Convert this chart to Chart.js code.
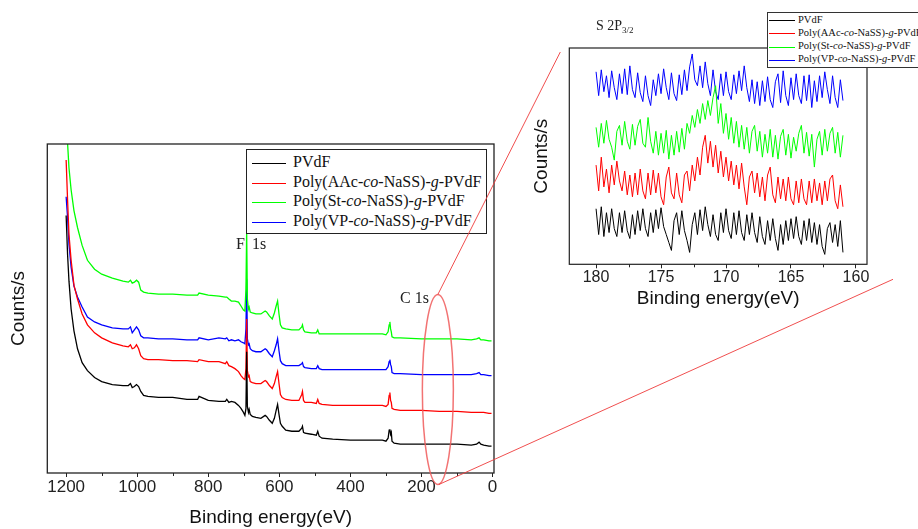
<!DOCTYPE html>
<html>
<head>
<meta charset="utf-8">
<script src="https://cdn.jsdelivr.net/npm/chart.js@4.4.1/dist/chart.umd.min.js"></script>
<style>
  html, body { margin: 0; padding: 0; background: #fff; }
  body { position: relative; width: 918px; height: 529px; overflow: hidden; }
  canvas { position: absolute; }
  #main { left: 0; top: 0; }
  #inset { left: 520px; top: 0; }
  #overlay { left: 0; top: 0; pointer-events: none; z-index: 3; }
  .legend { position: absolute; background: #fff; box-sizing: border-box; z-index: 2;
    font-family: "Liberation Serif", "Times New Roman", serif; color: #111; white-space: nowrap; }
  .legend .swatch, .legend .label { position: absolute; }
  .note { position: absolute; z-index: 2; font-family: "Liberation Serif", "Times New Roman", serif;
    color: #222; white-space: pre; }
</style>
</head>
<body>
<canvas id="main" width="510" height="529"></canvas>
<canvas id="inset" width="398" height="311"></canvas>
<canvas id="overlay" width="918" height="529"></canvas>

<div class="legend" id="legMain" style="left:246px;top:149px;width:241px;height:85px;border:1px solid #222"></div>
<div class="legend" id="legInset" style="left:767px;top:12px;width:220px;height:56px;border:1px solid #333"></div>

<div class="note" style="left:236px;top:236px;font-size:16px;line-height:16px;word-spacing:3px">F 1s</div>
<div class="note" style="left:400px;top:290px;font-size:16px;line-height:16px">C 1s</div>
<div class="note" style="left:596px;top:19px;font-size:14px;line-height:14px">S 2P<span style="font-size:9px;position:relative;top:3px">3/2</span></div>

<script>
const seriesNames = [
  "PVdF",
  "Poly(AAc-<i>co</i>-NaSS)-<i>g</i>-PVdF",
  "Poly(St-<i>co</i>-NaSS)-<i>g</i>-PVdF",
  "Poly(VP-<i>co</i>-NaSS)-<i>g</i>-PVdF",
];
const seriesColors = ["#000000", "#ff0000", "#00ff00", "#0000ff"];

// survey spectrum, binding energy (eV)
const surveyEnergy = [
  1200, 1196, 1192, 1186, 1178, 1168, 1155, 1140, 1120, 1100,
  1070, 1040, 1025, 1019, 1014, 1008, 1002, 996, 990, 982,
  970, 940, 900, 860, 830, 826, 800, 770, 752, 748,
  742, 735, 725, 715, 708, 701, 697, 694, 692, 690,
  687, 685, 682, 676, 666, 652, 640, 636, 628, 620,
  614, 609, 605, 601, 597, 592, 582, 565, 545, 537,
  535, 532, 528, 510, 496, 492, 488, 480, 450, 400,
  350, 310, 300, 294, 291, 289, 287, 285, 283, 277,
  260, 200, 150, 100, 60, 45, 38, 33, 25, 10,
  3,
];
const surveyPVdF = [
  259, 220, 193, 165, 143, 125, 111, 103, 96, 92,
  89, 88, 88, 90, 86, 87, 89, 87, 82, 78,
  77, 76, 76, 74, 74, 77, 73, 72, 72, 74,
  71, 72, 71, 68, 65, 61, 58, 65, 122, 67,
  61, 64, 59, 57, 56, 55, 58, 57, 53, 50,
  55, 63, 69, 59, 50, 47, 43, 42, 42, 45,
  47, 41, 40, 39, 38, 42, 37, 35, 34, 33,
  33, 33, 32, 35, 43, 44, 39, 41, 32, 30,
  29, 29, 29, 29, 28, 29, 31, 29, 28, 27,
  27,
];
const surveyAAc = [
  315, 275, 240, 214, 189, 175, 160, 149, 141, 136,
  131, 128, 127, 129, 125, 126, 129, 125, 118, 115,
  114, 114, 113, 113, 112, 114, 112, 112, 110, 112,
  108, 107, 105, 102, 98, 95, 94, 105, 155, 103,
  97, 98, 92, 91, 90, 90, 93, 92, 88, 85,
  90, 97, 102, 90, 79, 76, 74, 73, 73, 79,
  82, 73, 71, 71, 70, 74, 70, 69, 68, 68,
  68, 68, 67, 69, 78, 81, 73, 71, 65, 64,
  63, 63, 62, 62, 61, 61, 61, 61, 61, 60,
  60,
];
const surveySt = [
  375, 332, 307, 285, 264, 247, 229, 214, 205, 200,
  196, 193, 192, 194, 191, 192, 194, 192, 184, 182,
  181, 180, 180, 179, 179, 181, 179, 178, 177, 177,
  175, 173, 173, 172, 168, 164, 163, 185, 243, 175,
  165, 167, 162, 161, 160, 160, 163, 162, 158, 155,
  161, 168, 173, 160, 149, 146, 145, 144, 144, 147,
  149, 144, 142, 141, 141, 144, 140, 140, 140, 140,
  140, 140, 139, 142, 149, 152, 145, 142, 137, 136,
  136, 135, 135, 135, 134, 135, 136, 134, 134, 133,
  133,
];
const surveyVP = [
  278, 257, 230, 207, 188, 177, 167, 157, 152, 149,
  146, 145, 145, 147, 141, 144, 147, 144, 138, 136,
  136, 135, 135, 134, 134, 136, 134, 136, 135, 136,
  133, 134, 133, 134, 132, 131, 130, 145, 195, 135,
  129, 130, 125, 123, 122, 122, 125, 124, 120, 117,
  123, 129, 135, 123, 113, 110, 108, 108, 108, 110,
  111, 107, 106, 105, 105, 108, 105, 104, 104, 104,
  104, 104, 104, 107, 112, 114, 109, 107, 101, 100,
  100, 99, 99, 99, 99, 100, 101, 99, 99, 98,
  98,
];

// S 2p region
const sEnergy = [
  180, 179.8, 179.6, 179.4, 179.2, 179, 178.8, 178.6, 178.4, 178.2,
  178, 177.8, 177.6, 177.4, 177.2, 177, 176.8, 176.6, 176.4, 176.2,
  176, 175.8, 175.6, 175.4, 175.2, 175, 174.8, 174.6, 174.4, 174.2,
  174, 173.8, 173.6, 173.4, 173.2, 173, 172.8, 172.6, 172.4, 172.2,
  172, 171.8, 171.6, 171.4, 171.2, 171, 170.8, 170.6, 170.4, 170.2,
  170, 169.8, 169.6, 169.4, 169.2, 169, 168.8, 168.6, 168.4, 168.2,
  168, 167.8, 167.6, 167.4, 167.2, 167, 166.8, 166.6, 166.4, 166.2,
  166, 165.8, 165.6, 165.4, 165.2, 165, 164.8, 164.6, 164.4, 164.2,
  164, 163.8, 163.6, 163.4, 163.2, 163, 162.8, 162.6, 162.4, 162.2,
  162, 161.8, 161.6, 161.4, 161.2, 161,
];
const sPVdF = [
  56, 30, 58, 28, 52, 32, 56, 36, 28, 52,
  32, 54, 34, 26, 50, 30, 54, 34, 56, 36,
  28, 52, 32, 55, 36, 57, 38, 30, 22, 14,
  44, 52, 30, 54, 34, 24, 12, 40, 52, 30,
  55, 34, 58, 40, 28, 50, 30, 24, 52, 32,
  56, 34, 26, 52, 30, 54, 32, 24, 50, 30,
  52, 32, 22, 48, 28, 20, 44, 24, 46, 26,
  14, 40, 20, 44, 24, 46, 26, 48, 28, 20,
  44, 24, 46, 22, 42, 20, 40, 18, 10, 36,
  42, 22, 40, 18, 44, 12,
];
const sAAc = [
  100, 74, 108, 78, 96, 72, 100, 80, 104, 84,
  74, 94, 70, 90, 68, 92, 70, 96, 74, 66,
  92, 70, 95, 72, 92, 68, 60, 88, 98, 72,
  66, 92, 70, 62, 90, 94, 74, 100, 84, 108,
  90, 118, 130, 102, 124, 98, 120, 92, 114, 88,
  108, 84, 104, 80, 100, 76, 102, 78, 60, 88,
  94, 72, 92, 68, 88, 64, 90, 98, 70, 62,
  88, 66, 86, 64, 88, 66, 60, 84, 62, 86,
  66, 60, 84, 62, 86, 64, 82, 60, 84, 64,
  86, 90, 64, 56, 80, 58,
];
const sSt = [
  138, 118, 142, 122, 145, 126, 118, 105, 134, 140,
  120, 144, 124, 116, 141, 120, 139, 146, 122, 118,
  148, 124, 112, 134, 110, 132, 112, 135, 106, 130,
  110, 134, 113, 137, 116, 142, 132, 150, 138, 156,
  142, 162, 146, 165, 150, 168, 180, 142, 162, 132,
  152, 126, 148, 122, 144, 118, 140, 116, 138, 112,
  134, 140, 114, 134, 108, 131, 112, 136, 108, 130,
  106, 129, 136, 110, 131, 107, 128, 114, 132, 140,
  112, 133, 109, 131, 98, 126, 134, 110, 136, 114,
  132, 138, 112, 133, 108, 130,
];
const sVP = [
  194, 170, 196, 174, 190, 168, 195, 178, 166, 192,
  172, 197, 171, 200, 176, 168, 193, 173, 164, 190,
  170, 160, 186, 170, 192, 172, 197, 178, 166, 193,
  172, 165, 191, 171, 196, 175, 199, 212, 186, 180,
  200, 178, 204, 182, 170, 196, 174, 166, 192, 170,
  194, 174, 166, 191, 172, 195, 175, 200, 178, 164,
  186, 162, 184, 160, 185, 164, 189, 166, 158, 184,
  192, 163, 195, 170, 160, 188, 166, 192, 170, 162,
  190, 165, 191, 158, 185, 164, 190, 168, 194, 176,
  162, 190, 168, 158, 186, 165,
];

const mainMinorTicks = [100, 300, 500, 700, 900, 1100];
const insetMinorTicks = [162.5, 167.5, 172.5, 177.5];

Chart.defaults.font.family = "'Liberation Sans', Arial, sans-serif";
Chart.defaults.color = "#222";

const framePlugin = {
  id: "frame",
  afterDraw(chart, args, opts) {
    let ctx = chart.ctx;
    let a = chart.chartArea;
    let x = chart.scales.x;
    ctx.save();
    ctx.strokeStyle = "#222";
    ctx.lineWidth = opts.width || 1.2;
    ctx.strokeRect(a.left, a.top, a.right - a.left, a.bottom - a.top);
    ctx.lineWidth = 1;
    (opts.minor || []).forEach((v) => {
      let px = Math.round(x.getPixelForValue(v)) + 0.5;
      ctx.beginPath();
      ctx.moveTo(px, a.bottom);
      ctx.lineTo(px, a.bottom + 3);
      ctx.stroke();
    });
    ctx.restore();
  },
};

function makeDatasets(energy, lists, width) {
  return lists.map((vals, i) => ({
    label: seriesNames[i].replace(/<[^>]+>/g, ""),
    data: energy.map((e, j) => ({ x: e, y: vals[j] })),
    borderColor: seriesColors[i],
    borderWidth: width,
    pointRadius: 0,
    tension: 0,
    fill: false,
  }));
}

function axisX(min, max, step, tickSize, tickPad, titlePad) {
  return {
    type: "linear",
    min: min,
    max: max,
    reverse: true,
    border: { display: false },
    grid: { drawOnChartArea: false, tickLength: 4, tickColor: "#222", tickWidth: 1 },
    ticks: { stepSize: step, includeBounds: false, maxRotation: 0, padding: tickPad,
      font: { size: tickSize, lineHeight: 1 }, color: "#222",
      callback: (v) => String(v) },
    title: { display: true, text: "Binding energy(eV)", color: "#111",
      font: { size: 19 }, padding: titlePad },
  };
}

function axisY(max, titlePad) {
  return {
    min: 0,
    max: max,
    border: { display: false },
    grid: { display: false, drawTicks: false },
    ticks: { display: false },
    title: { display: true, text: "Counts/s", color: "#111", font: { size: 19 }, padding: titlePad },
  };
}

const mainChart = new Chart(document.getElementById("main"), {
  type: "line",
  data: { datasets: makeDatasets(surveyEnergy, [surveyPVdF, surveyAAc, surveySt, surveyVP], 1.3) },
  options: {
    responsive: false,
    animation: false,
    events: [],
    layout: { padding: { top: 144, right: 16, left: 0, bottom: 0 } },
    plugins: { legend: { display: false }, tooltip: { enabled: false },
      frame: { width: 1.3, minor: mainMinorTicks } },
    scales: {
      x: axisX(-4, 1253, 200, 17, 2, { top: 8.2, bottom: 0 }),
      y: axisY(331, { top: 7, bottom: 17.5 }),
    },
  },
  plugins: [framePlugin],
});

const insetChart = new Chart(document.getElementById("inset"), {
  type: "line",
  data: { datasets: makeDatasets(sEnergy, [sPVdF, sAAc, sSt, sVP], 1) },
  options: {
    responsive: false,
    animation: false,
    events: [],
    layout: { padding: { top: 48, right: 51, left: 0, bottom: 0 } },
    plugins: { legend: { display: false }, tooltip: { enabled: false },
      frame: { width: 1.2, minor: insetMinorTicks } },
    scales: {
      x: axisX(159.15, 182.06, 5, 16, 1.7, { top: 0, bottom: 0.5 }),
      y: axisY(218, { top: 10, bottom: 16.5 }),
    },
  },
  plugins: [framePlugin],
});

function buildLegend(id, cfg) {
  let box = document.getElementById(id);
  seriesNames.forEach((name, i) => {
    let cy = cfg.first + i * cfg.step;
    let sw = document.createElement("div");
    sw.className = "swatch";
    sw.style.cssText = `left:${cfg.lineX}px;top:${Math.round(cy)}px;width:${cfg.lineLen}px;height:1px;background:${seriesColors[i]}`;
    let tx = document.createElement("div");
    tx.className = "label";
    tx.style.cssText = `left:${cfg.textX}px;top:${cy - cfg.size * 0.55}px;font-size:${cfg.size}px;line-height:${cfg.size}px`;
    tx.innerHTML = name;
    box.append(sw, tx);
  });
}

buildLegend("legMain", { first: 13, step: 19.5, lineX: 5, lineLen: 34, textX: 46, size: 16 });
buildLegend("legInset", { first: 7.3, step: 13.1, lineX: 1, lineLen: 26, textX: 30, size: 10.5 });

// zoom ellipse round the S 2p region of the survey, with guide lines to the inset
function drawOverlay() {
  let ctx = document.getElementById("overlay").getContext("2d");
  let insetLeft = 520;
  let cx = mainChart.scales.x.getPixelForValue(154);
  let cy = mainChart.scales.y.getPixelForValue(84);
  let rx = 15.5;
  let ry = 95;
  let a = insetChart.chartArea;

  ctx.save();
  ctx.strokeStyle = "rgba(240, 90, 90, 0.85)";
  ctx.lineWidth = 1.5;
  ctx.beginPath();
  ctx.ellipse(cx, cy, rx, ry, 0, 0, Math.PI * 2);
  ctx.stroke();

  ctx.strokeStyle = "rgba(238, 60, 60, 0.9)";
  ctx.lineWidth = 1;
  ctx.beginPath();
  ctx.moveTo(cx, cy - ry);
  ctx.lineTo(insetLeft + a.left - 9, a.top + 4);
  ctx.moveTo(cx + 1, cy + ry);
  ctx.lineTo(insetLeft + a.right + 26, a.bottom + 15);
  ctx.stroke();
  ctx.restore();
}

drawOverlay();
</script>
</body>
</html>
